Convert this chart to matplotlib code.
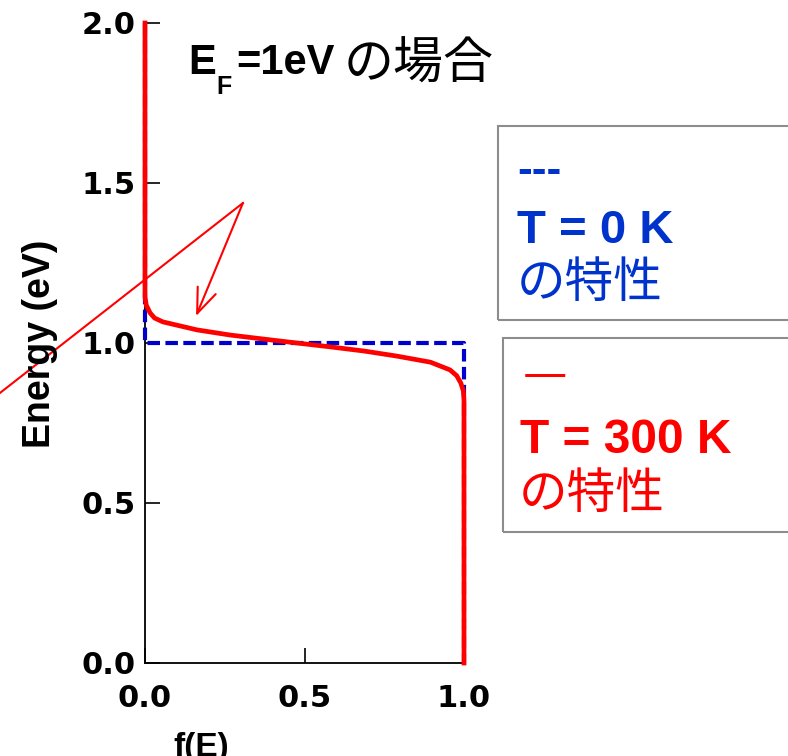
import matplotlib
matplotlib.use("Agg")
import matplotlib.pyplot as plt
from matplotlib.patches import Rectangle

# Fermi-Dirac occupancy (E_F = 1 eV)
F_300K = [0.0, 0.0, 0.004, 0.016, 0.03, 0.056, 0.163, 0.266, 0.37, 0.476,
          0.58, 0.686, 0.79, 0.895, 0.956, 0.977, 0.99, 0.998, 1.0, 1.0]
E_300K = [2.0, 1.144, 1.118, 1.094, 1.078, 1.066, 1.041, 1.025, 1.0125, 1.0,
          0.988, 0.975, 0.959, 0.94, 0.916, 0.898, 0.875, 0.85, 0.82, 0.0]
F_0K = [0.0, 0.0, 1.0, 1.0]
E_0K = [2.0, 1.0, 1.0, 0.0]

XTICKS = [0.0, 0.5, 1.0]
YTICKS = [0.0, 0.5, 1.0, 1.5, 2.0]

RED = "#ff0000"
BLUE = "#0000cc"
BLUE_TXT = "#0033cc"
LAT = ["Liberation Sans", "DejaVu Sans"]
NUM = ["DejaVu Sans"]
JP = ["Noto Sans CJK JP", "DejaVu Sans"]

W, H = 788, 756
fig = plt.figure(figsize=(W / 100, H / 100), dpi=100)


def px(x, y):
    return x / W, 1 - y / H


ax = fig.add_axes([145 / W, 1 - 663 / H, 319 / W, 640 / H])
ax.plot(F_0K, E_0K, color=BLUE, lw=3, ls=(0, (3, 1.3)), clip_on=False, zorder=3)
ax.plot(F_300K, E_300K, color=RED, lw=3.4, clip_on=False, zorder=4,
        solid_joinstyle="round")

# pointer line + arrow
ax.plot([-0.4545, 0.307], [0.844, 1.4375], color=RED, lw=1.5, clip_on=False, zorder=5)
ax.annotate("", xy=(0.16, 1.084), xytext=(0.307, 1.4375),
            arrowprops=dict(arrowstyle="->,head_length=0.9,head_width=0.35",
                            color=RED, lw=1.5, mutation_scale=20,
                            shrinkA=0, shrinkB=0),
            annotation_clip=False, zorder=5)

ax.set_xlim(0, 1)
ax.set_ylim(0, 2)
ax.set_xticks(XTICKS)
ax.set_yticks(YTICKS)
ax.set_xticklabels([f"{v:.1f}" for v in XTICKS], family=NUM, fontsize=22, fontweight="bold")
ax.set_yticklabels([f"{v:.1f}" for v in YTICKS], family=NUM, fontsize=22, fontweight="bold")
ax.tick_params(direction="in", length=11, width=1.2)
ax.tick_params(axis="x", pad=15)
ax.tick_params(axis="y", pad=7)
ax.spines[["top", "right"]].set_visible(False)
ax.spines[["left", "bottom"]].set_linewidth(1.3)

fig.text(*px(40, 344), "Energy (eV)", family=LAT, fontsize=27, fontweight="bold",
         rotation=90, ha="center", va="center")
fig.text(*px(173, 732), "f(E)", family=LAT, fontsize=24, fontweight="bold", va="top")

# title E_F=1eVの場合
fig.text(*px(188, 74), "E", family=LAT, fontsize=30, fontweight="bold", va="baseline")
fig.text(*px(216, 94), "F", family=LAT, fontsize=18, fontweight="bold", va="baseline")
fig.text(*px(236, 74), "=1eV", family=LAT, fontsize=30, fontweight="bold", va="baseline")
fig.text(*px(344, 79), "の場合", family=JP, fontsize=36, va="baseline")

# legend boxes
for x0, y0, y1 in [(498, 126, 320), (503, 338, 532)]:
    fig.patches.append(Rectangle(px(x0, y1), (W + 10 - x0) / W, (y1 - y0) / H,
                                 transform=fig.transFigure, fill=False,
                                 ec="#8c8c8c", lw=1.5))

fig.text(*px(517, 183), "---", family=LAT, fontsize=32, fontweight="bold",
         color=BLUE_TXT, va="baseline")
fig.text(*px(517, 243), "T = 0 K", family=LAT, fontsize=34, fontweight="bold",
         color=BLUE_TXT, va="baseline")
fig.text(*px(517, 297), "の特性", family=JP, fontsize=35, color=BLUE_TXT, va="baseline")

fig.text(*px(523, 390), "—", family=JP, fontsize=36, color=RED, va="baseline")
fig.text(*px(520, 453), "T = 300 K", family=LAT, fontsize=34.5, fontweight="bold",
         color=RED, va="baseline")
fig.text(*px(519, 508), "の特性", family=JP, fontsize=35, color=RED, va="baseline")

fig.savefig("out.png", dpi=100)
